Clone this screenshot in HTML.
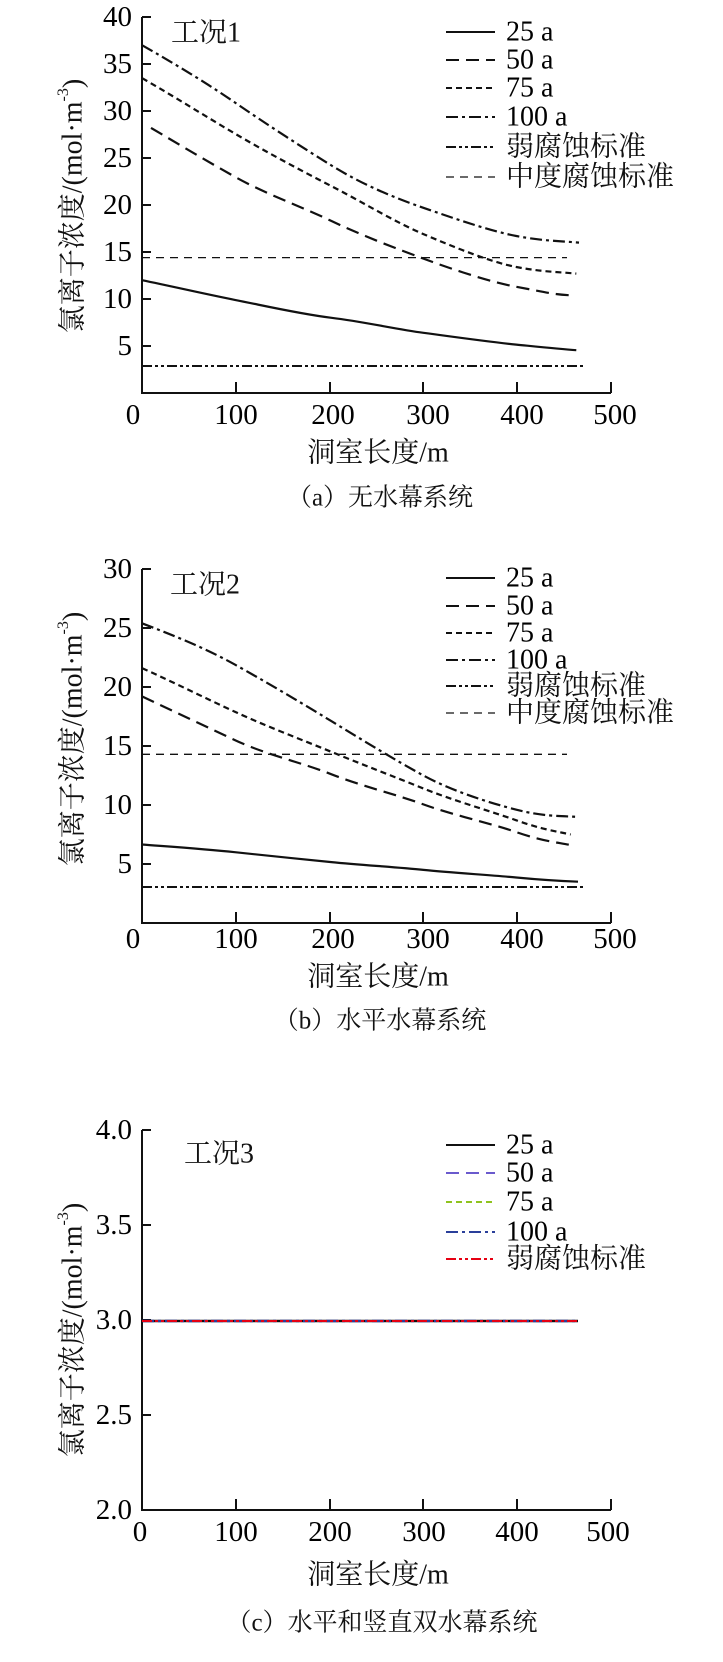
<!DOCTYPE html>
<html><head><meta charset="utf-8"><style>
html,body{margin:0;padding:0;background:#fff;}
svg{display:block;}
.t{font-family:"Liberation Serif",serif;font-size:29px;fill:#000;}
.l{font-family:"Liberation Serif",serif;font-size:28px;fill:#000;}
.c{font-family:"Liberation Serif","Noto Serif CJK SC",serif;font-size:28px;fill:#111;}
</style></head><body>
<svg width="723" height="1662" viewBox="0 0 723 1662" xmlns="http://www.w3.org/2000/svg">
<g fill="none" stroke="#111">
<path d="M142 17 V393 H611" stroke-width="2"/>
<path d="M142 17h9M142 64h9M142 111h9M142 158h9M142 205h9M142 252h9M142 299h9M142 346h9 M236 393v-11M330 393v-11M423 393v-11M517 393v-11M611 393v-11" stroke-width="2"/>
<path d="M142,280.2 C175,287 205,294 234.9,299.9 S300,314 331.5,317.8 S395,329 423.4,332.8 S490,342 516.3,344.6 S560,349 576.3,350.2" stroke-width="2.2"/>
<path d="M151,127.9 C180,145 205,160 234.9,176.8 S300,206 331.5,221 S395,248 423.4,258.6 S490,282 516.3,286.8 S550,294 568.8,295.2" stroke-width="2.2" stroke-dasharray="13 7"/>
<path d="M142,78.1 C175,97 205,116 234.9,133.6 S300,170 331.5,186.2 S395,222 423.4,234.1 S490,262 516.3,267 S560,272 576.3,273.6" stroke-width="2.2" stroke-dasharray="6 4"/>
<path d="M142,45.2 C175,64 205,82 234.9,102.5 S300,146 331.5,165.5 S395,198 423.4,207.8 S490,231 516.3,236 S560,241 579,242.6" stroke-width="2.2" stroke-dasharray="12 4 3 4"/>
<line x1="142" y1="257.6" x2="567" y2="257.6" stroke-width="1.3" stroke-dasharray="8 6"/>
<line x1="142" y1="366" x2="583" y2="366" stroke-width="2" stroke-dasharray="10 3 3 3 3 3"/>
<line x1="446" y1="32" x2="495" y2="32" stroke-width="2"/>
<line x1="446" y1="60" x2="495" y2="60" stroke-width="2" stroke-dasharray="13 7"/>
<line x1="446" y1="88" x2="495" y2="88" stroke-width="2" stroke-dasharray="6 4"/>
<line x1="446" y1="117" x2="495" y2="117" stroke-width="2" stroke-dasharray="12 4 3 4"/>
<line x1="446" y1="147" x2="495" y2="147" stroke-width="2" stroke-dasharray="10 3 3 3 3 3"/>
<line x1="446" y1="177" x2="495" y2="177" stroke-width="1.3" stroke-dasharray="8 6"/>

<path d="M142 569 V923 H611" stroke-width="2"/>
<path d="M142 569h9M142 628h9M142 687h9M142 746h9M142 805h9M142 864h9 M236 923v-11M330 923v-11M423 923v-11M517 923v-11M611 923v-11" stroke-width="2"/>
<path d="M142,844.5 C175,847 205,849 234.9,852.2 S300,859 331.5,862.1 S395,867 423.4,869.9 S490,875 516.3,877.5 S560,881 578,881.7" stroke-width="2.2"/>
<path d="M142,696.4 C175,712 205,726 234.9,740.1 S300,762 331.5,774.3 S395,794 423.4,804.4 S490,823 516.3,832.1 S555,842 570.7,845.1" stroke-width="2.2" stroke-dasharray="13 7"/>
<path d="M142,668.1 C175,683 205,698 234.9,711.8 S300,739 331.5,751.9 S395,777 423.4,788.5 S490,811 516.3,820.3 S555,831 570.7,834.5" stroke-width="2.2" stroke-dasharray="6 4"/>
<path d="M142,623.3 C175,636 205,648 234.9,664.6 S300,702 331.5,721.2 S395,760 423.4,775.5 S490,803 516.3,809.7 S560,816 577,816.8" stroke-width="2.2" stroke-dasharray="12 4 3 4"/>
<line x1="142" y1="754.3" x2="567" y2="754.3" stroke-width="1.3" stroke-dasharray="8 6"/>
<line x1="142" y1="887" x2="583" y2="887" stroke-width="2" stroke-dasharray="10 3 3 3 3 3"/>
<line x1="446" y1="578" x2="495" y2="578" stroke-width="2"/>
<line x1="446" y1="606" x2="495" y2="606" stroke-width="2" stroke-dasharray="13 7"/>
<line x1="446" y1="633" x2="495" y2="633" stroke-width="2" stroke-dasharray="6 4"/>
<line x1="446" y1="660" x2="495" y2="660" stroke-width="2" stroke-dasharray="12 4 3 4"/>
<line x1="446" y1="686" x2="495" y2="686" stroke-width="2" stroke-dasharray="10 3 3 3 3 3"/>
<line x1="446" y1="713" x2="495" y2="713" stroke-width="1.3" stroke-dasharray="8 6"/>

<path d="M142 1130 V1510 H611" stroke-width="2"/>
<path d="M142 1130h9M142 1225h9M142 1320h9M142 1415h9 M236 1510v-11M330 1510v-11M423 1510v-11M517 1510v-11M611 1510v-11" stroke-width="2"/>
<line x1="142" y1="1321" x2="578" y2="1321" stroke="#111" stroke-width="2.5"/>
<line x1="142" y1="1321" x2="578" y2="1321" stroke="#2a3f9a" stroke-width="2.5" stroke-dasharray="12 4 3 4"/>
<line x1="142" y1="1321" x2="578" y2="1321" stroke="#e60012" stroke-width="2" stroke-dasharray="10 3 3 3 3 3"/>
<line x1="446" y1="1145" x2="495" y2="1145" stroke-width="2"/>
<line x1="446" y1="1173" x2="495" y2="1173" stroke="#6a5acd" stroke-width="2" stroke-dasharray="13 7"/>
<line x1="446" y1="1202" x2="495" y2="1202" stroke="#8fc31f" stroke-width="2" stroke-dasharray="6 4"/>
<line x1="446" y1="1232" x2="495" y2="1232" stroke="#2a3f9a" stroke-width="2" stroke-dasharray="12 4 3 4"/>
<line x1="446" y1="1259" x2="495" y2="1259" stroke="#e60012" stroke-width="2" stroke-dasharray="10 3 3 3 3 3"/>
</g>

<g class="t" text-anchor="end" dominant-baseline="central">
<text x="132" y="17">40</text><text x="132" y="64">35</text><text x="132" y="111">30</text><text x="132" y="158">25</text><text x="132" y="205">20</text><text x="132" y="252">15</text><text x="132" y="299">10</text><text x="132" y="346">5</text>
<text x="132" y="569">30</text><text x="132" y="628">25</text><text x="132" y="687">20</text><text x="132" y="746">15</text><text x="132" y="805">10</text><text x="132" y="864">5</text>
<text x="132" y="1130">4.0</text><text x="132" y="1225">3.5</text><text x="132" y="1320">3.0</text><text x="132" y="1415">2.5</text><text x="132" y="1510">2.0</text>
</g>
<g class="t" text-anchor="middle" dominant-baseline="central">
<text x="133" y="415">0</text><text x="236" y="415">100</text><text x="333" y="415">200</text><text x="428" y="415">300</text><text x="522" y="415">400</text><text x="615" y="415">500</text>
<text x="133" y="939">0</text><text x="236" y="939">100</text><text x="333" y="939">200</text><text x="428" y="939">300</text><text x="522" y="939">400</text><text x="615" y="939">500</text>
<text x="140" y="1532">0</text><text x="236" y="1532">100</text><text x="330" y="1532">200</text><text x="424" y="1532">300</text><text x="517" y="1532">400</text><text x="608" y="1532">500</text>
</g>
<g class="c" text-anchor="middle" dominant-baseline="central">
<text x="378" y="453">洞室长度/m</text>
<text x="378" y="977">洞室长度/m</text>
<text x="378" y="1575">洞室长度/m</text>
<text x="380" y="498" font-size="25">（a）无水幕系统</text>
<text x="380" y="1021" font-size="25">（b）水平水幕系统</text>
<text x="382" y="1623" font-size="25">（c）水平和竖直双水幕系统</text>
<text transform="translate(73,206) rotate(-90)">氯离子浓度/(mol·m<tspan font-size="16" dy="-10">-3</tspan><tspan dy="10">)</tspan></text>
<text transform="translate(73,739) rotate(-90)">氯离子浓度/(mol·m<tspan font-size="16" dy="-10">-3</tspan><tspan dy="10">)</tspan></text>
<text transform="translate(73,1330) rotate(-90)">氯离子浓度/(mol·m<tspan font-size="16" dy="-10">-3</tspan><tspan dy="10">)</tspan></text>
</g>
<g class="c" dominant-baseline="central">
<text x="171" y="33">工况1</text>
<text x="170" y="585">工况2</text>
<text x="184" y="1154">工况3</text>
<text x="506" y="147">弱腐蚀标准</text><text x="506" y="177">中度腐蚀标准</text>
<text x="506" y="686">弱腐蚀标准</text><text x="506" y="713">中度腐蚀标准</text>
<text x="506" y="1259">弱腐蚀标准</text>
</g>
<g class="l" dominant-baseline="central">
<text x="506" y="32">25 a</text><text x="506" y="60">50 a</text><text x="506" y="88">75 a</text><text x="506" y="117">100 a</text>
<text x="506" y="578">25 a</text><text x="506" y="606">50 a</text><text x="506" y="633">75 a</text><text x="506" y="660">100 a</text>
<text x="506" y="1145">25 a</text><text x="506" y="1173">50 a</text><text x="506" y="1202">75 a</text><text x="506" y="1232">100 a</text>
</g>
</svg>
</body></html>
